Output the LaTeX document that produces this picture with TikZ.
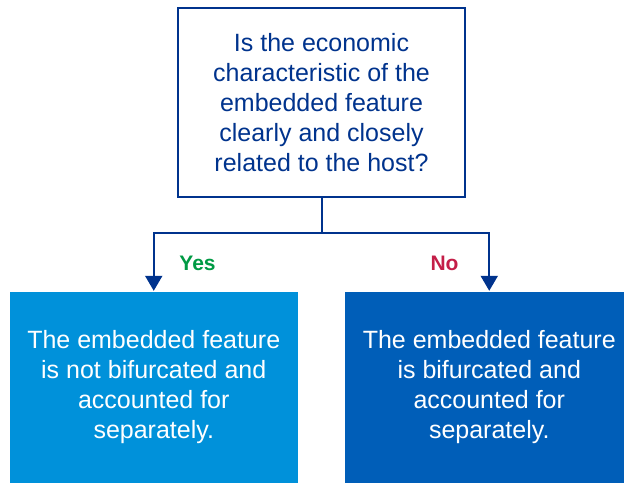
\documentclass[tikz,border=0pt]{standalone}
\usepackage{fontspec}
\setmainfont{Liberation Sans}
\usetikzlibrary{arrows.meta}
\definecolor{kdark}{RGB}{0,51,141}
\definecolor{kmid}{RGB}{0,145,218}
\definecolor{kblue}{RGB}{0,94,184}
\definecolor{kgreen}{RGB}{0,154,68}
\definecolor{kred}{RGB}{196,30,72}
\begin{document}
\begin{tikzpicture}[x=1pt,y=-1pt,
  qbox/.style={draw=kdark, line width=2pt, fill=white, text=kdark, align=center,
    inner sep=0pt, font=\fontsize{25}{30}\selectfont},
  abox/.style={draw=none, text=white, align=center, inner sep=0pt,
    font=\fontsize{25}{30}\selectfont},
  conn/.style={draw=kdark, line width=2pt},
  tip/.style={-{Triangle[width=17pt,length=15pt]}},
  lab/.style={font=\fontsize{21}{24}\selectfont\bfseries, anchor=base, inner sep=0pt}]
\useasboundingbox (0,0) rectangle (624,485);
\clip (0,0) rectangle (624,485);
\node[qbox, minimum width=287pt, minimum height=189pt] (q) at (321.5,102.5)
  {Is the economic\\characteristic of the\\embedded feature\\clearly and closely\\related to the host?};
\node[abox, fill=kmid, minimum width=288.5pt, minimum height=190.5pt] (yes) at (153.75,387.25)
  {The embedded feature\\is not bifurcated and\\accounted for\\separately.};
\node[abox, fill=kblue, minimum width=289.5pt, minimum height=190.5pt] (no) at (489.25,387.25)
  {The embedded feature\\is bifurcated and\\accounted for\\separately.};
\coordinate (j) at (321.5,232.5);
\draw[conn] (q.south) -- (j);
\draw[conn, tip, shorten >=1pt] (j) -| (yes.north);
\draw[conn, tip, shorten >=1pt] (j) -| (no.north);
\node[lab, text=kgreen] (ylab) at (197.5,270.5) {Yes};
\node[lab, text=kred] (nlab) at (444.5,270.5) {No};
\end{tikzpicture}
\end{document}
